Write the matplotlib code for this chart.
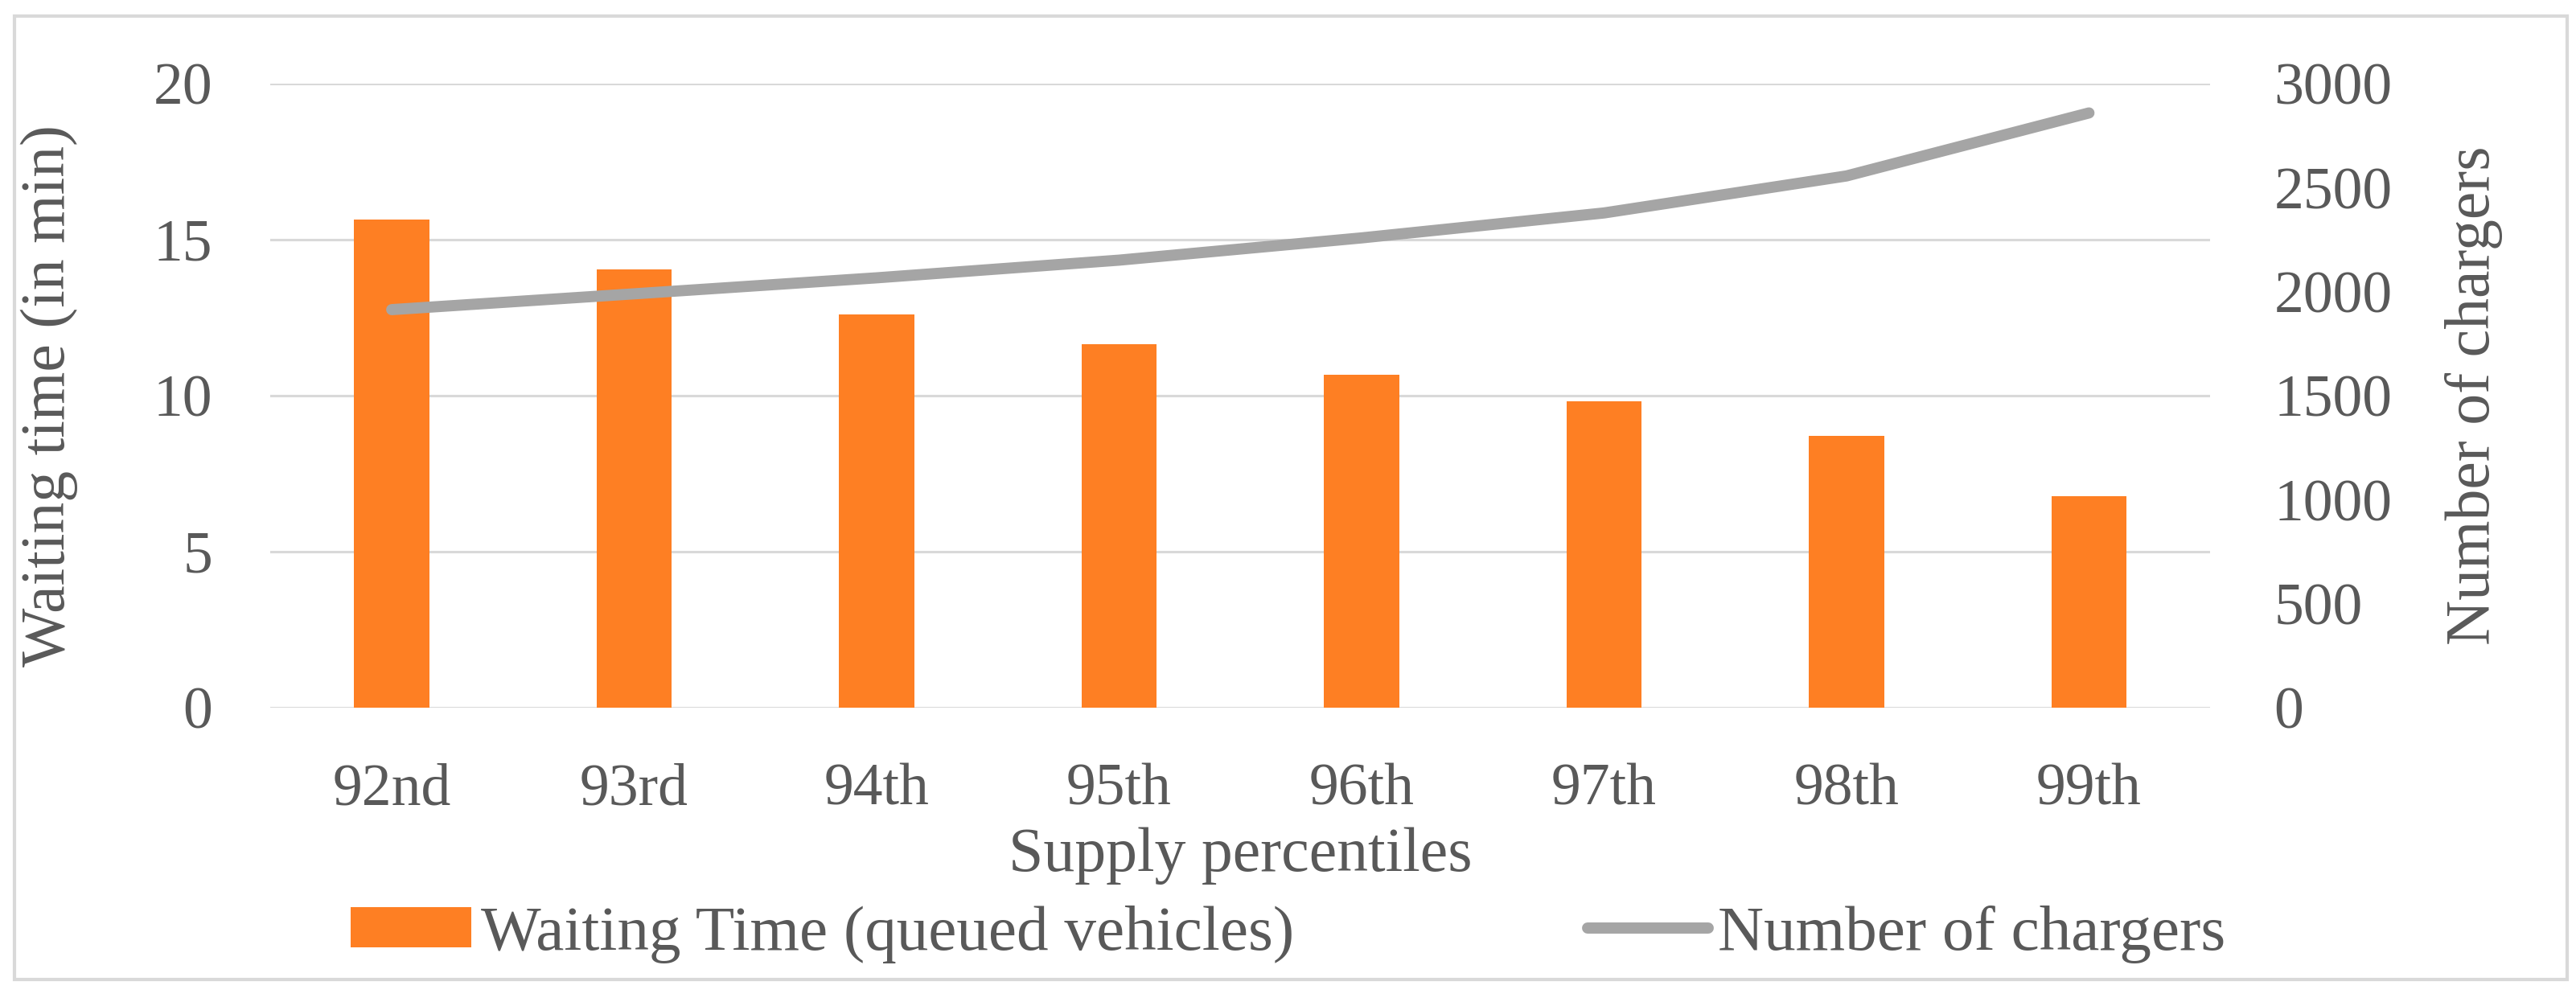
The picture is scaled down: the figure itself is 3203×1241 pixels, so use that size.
import numpy as np
import matplotlib.pyplot as plt
from matplotlib.patches import Rectangle

# chart data
percentiles = ['92nd', '93rd', '94th', '95th', '96th', '97th', '98th', '99th']
waiting_time = [15.65, 14.04, 12.6, 11.64, 10.66, 9.81, 8.72, 6.78]
chargers = [1914, 1990, 2067, 2152, 2259, 2379, 2557, 2860]

orange = '#fe7f23'
grey_line = '#a5a5a5'
text_col = '#595959'
grid_col = '#d9d9d9'

plt.rcParams['font.family'] = ['Liberation Serif', 'DejaVu Serif']

fig = plt.figure(figsize=(32.03, 12.41), dpi=100)
ax = fig.add_axes([0.105, 0.291, 0.753, 0.625])
ax2 = ax.twinx()

x = np.arange(len(percentiles))
bars = ax.bar(x, waiting_time, width=0.31, color=orange, zorder=3,
              label='Waiting Time (queued vehicles)')
line, = ax2.plot(x, chargers, color=grey_line, lw=10, solid_capstyle='round',
                 solid_joinstyle='round', label='Number of chargers')

ax.set_xlim(-0.5, len(percentiles) - 0.5)
ax.set_ylim(0, 20)
ax2.set_ylim(0, 3000)
ax.set_yticks([0, 5, 10, 15, 20])
ax2.set_yticks([0, 500, 1000, 1500, 2000, 2500, 3000])
ax.set_xticks(x)
ax.set_xticklabels(percentiles)

ax.grid(axis='y', color=grid_col, lw=2.2, zorder=0)
ax.set_axisbelow(True)
ax.set_zorder(ax2.get_zorder() - 1)
ax2.patch.set_visible(False)

for a in (ax, ax2):
    for s in a.spines.values():
        s.set_visible(False)
    a.tick_params(length=0, labelsize=53, colors=text_col)
ax.tick_params(axis='y', pad=52)
ax.tick_params(axis='x', pad=50)
ax2.tick_params(axis='y', pad=57)

ax.set_ylabel('Waiting time (in min)', fontsize=56, color=text_col)
ax2.set_ylabel('Number of chargers', fontsize=56, color=text_col)
ax.set_xlabel('Supply percentiles', fontsize=56, color=text_col)
ax.yaxis.set_label_coords(-0.114, 0.5)
ax2.yaxis.set_label_coords(1.136, 0.5)
ax.xaxis.set_label_coords(0.5, -0.238)
for lab in (ax.yaxis.label, ax2.yaxis.label, ax.xaxis.label):
    lab.set_va('center')

leg = fig.legend(handles=[bars, line], loc='center', bbox_to_anchor=(0.5, 0.064),
                 ncol=2, frameon=False, fontsize=57, handlelength=1.9,
                 handleheight=0.6, handletextpad=0.15, columnspacing=4.6)
for t in leg.get_texts():
    t.set_color(text_col)

# outer border of chart area
fig.patches.append(Rectangle((0.0056, 0.0185), 0.991, 0.9655, transform=fig.transFigure,
                             fill=False, edgecolor=grid_col, lw=3))

fig.savefig('out.png', dpi=100, facecolor='white')
